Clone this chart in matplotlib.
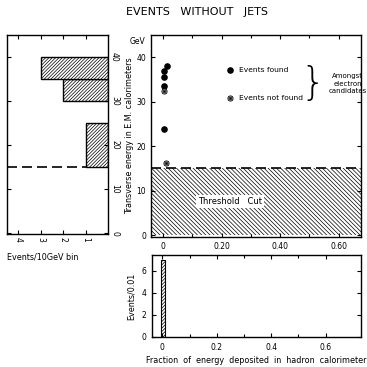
import matplotlib
matplotlib.use("Agg")
import matplotlib.pyplot as plt
import numpy as np

# ---- data ----
found_x = [0.013, 0.004, 0.004, 0.004, 0.004]
found_E = [38.0, 36.9, 35.6, 33.5, 23.8]
notfound_x = [0.004, 0.010]
notfound_E = [32.4, 16.3]
threshold = 15.0

hist_lo = [15, 30, 35]
hist_hi = [25, 35, 40]
hist_cnt = [1, 2, 3]

frac_left = [-0.004]
frac_width = [0.015]
frac_cnt = [7]

main_xticks = [0, 0.2, 0.4, 0.6]
main_xlabels = ["0", "0.20", "0.40", "0.60"]
e_ticks = [0, 10, 20, 30, 40]
left_xticks = [4, 3, 2, 1]
bot_xticks = [0, 0.2, 0.4, 0.6]
bot_xlabels = ["0", "0.2", "0.4", "0.6"]
bot_yticks = [0, 2, 4, 6]

plt.rcParams['font.family'] = ['DejaVu Sans']
plt.rcParams['hatch.linewidth'] = 0.5
W = H = 367.0
fig = plt.figure(figsize=(3.67, 3.67), dpi=100)

def ax_px(l, r, t, b):
    return fig.add_axes([l / W, (H - b) / H, (r - l) / W, (b - t) / H])

fs = 5.5
tick_kw = dict(direction='in', top=True, right=True, labelsize=fs, length=3, width=0.8)

# ---- main panel ----
ax = ax_px(151, 361, 35, 236.5)
ax.set_xlim(-0.041, 0.676)
ax.set_ylim(-0.3, 45)
ax.fill_between([-0.041, 0.676], 0, threshold, facecolor='white', edgecolor='black',
                hatch='\\' * 8, linewidth=0)
ax.axhline(threshold, color='black', lw=1.2, dashes=(6, 3))
ax.text(0.23, 7.5, "Threshold   Cut", fontsize=6, ha='center', va='center',
        bbox=dict(facecolor='white', edgecolor='none', pad=1.5))
ax.scatter(found_x, found_E, s=14, color='black', zorder=5)
ax.scatter(notfound_x, notfound_E, s=14, facecolor='white', edgecolor='black', lw=0.6, zorder=5)
ax.scatter(notfound_x, notfound_E, s=8, marker='x', color='black', lw=0.5, zorder=6)
ax.scatter(notfound_x, notfound_E, s=8, marker='+', color='black', lw=0.5, zorder=6)
# legend
ax.scatter([0.23], [37.1], s=14, color='black')
ax.scatter([0.23], [30.8], s=14, facecolor='white', edgecolor='black', lw=0.6)
ax.scatter([0.23], [30.8], s=8, marker='x', color='black', lw=0.5)
ax.scatter([0.23], [30.8], s=8, marker='+', color='black', lw=0.5)
ax.text(0.258, 37.1, "Events found", fontsize=5.4, va='center')
ax.text(0.258, 30.8, "Events not found", fontsize=5.4, va='center')
ax.text(0.512, 33.9, "}", fontsize=28, va='center', ha='center', fontweight='light')
ax.text(0.630, 34.0, "Amongst\nelectron\ncandidates", fontsize=5.0, va='center', ha='center',
        linespacing=1.3)
ax.set_xticks(main_xticks)
ax.set_xticklabels(main_xlabels)
ax.set_xticks(np.arange(0.1, 0.7, 0.2), minor=True)
ax.set_yticks(e_ticks)
ax.tick_params(which='both', **tick_kw)
ax.tick_params(which='minor', length=2)
ax.tick_params(axis='x', pad=4)
ax.set_ylabel("Transverse energy in E.M. calorimeters", fontsize=5.8, labelpad=2)
ax.text(-0.06, 43.5, "GeV", fontsize=5.5, ha='right', va='center')
for s in ax.spines.values():
    s.set_linewidth(1.0)

# ---- left panel ----
axl = ax_px(7, 108, 35, 234)
axl.set_xlim(4.49, 0)
axl.set_ylim(-0.2, 45)
axl.barh([(lo + hi) / 2 for lo, hi in zip(hist_lo, hist_hi)], hist_cnt,
         height=[hi - lo for lo, hi in zip(hist_lo, hist_hi)], left=0,
         facecolor='white', edgecolor='black', hatch='/' * 10, linewidth=1.0)
axl.plot([4.49, 1], [threshold, threshold], color='black', lw=1.2, dashes=(6, 3))
axl.set_xticks(left_xticks)
axl.set_xticklabels([str(v) for v in left_xticks], rotation=-90)
axl.set_yticks(e_ticks)
axl.yaxis.tick_right()
axl.set_yticklabels([str(v) for v in e_ticks], rotation=-90, va='center')
axl.tick_params(which='both', direction='in', top=True, left=True, right=True,
                labelleft=False, labelright=True, labelsize=fs, length=3, width=0.8)
axl.tick_params(axis='y', pad=1.5)
axl.tick_params(axis='x', pad=2)
axl.set_xlabel("Events/10GeV bin", fontsize=5.8, labelpad=8, x=0.35)
for s in axl.spines.values():
    s.set_linewidth(1.0)

# ---- bottom panel ----
axb = ax_px(151.5, 361, 255, 337)
axb.set_xlim(-0.04, 0.73)
axb.set_ylim(0, 7.45)
axb.bar(frac_left, frac_cnt, width=frac_width, align='edge', facecolor='white',
        edgecolor='black', hatch='/' * 10, linewidth=0.8)
axb.set_xticks(bot_xticks)
axb.set_xticklabels(bot_xlabels)
axb.set_xticks([0.1, 0.3, 0.5], minor=True)
axb.set_yticks(bot_yticks)
axb.tick_params(which='both', **tick_kw)
axb.tick_params(which='minor', length=2)
axb.tick_params(axis='x', pad=4)
axb.set_ylabel("Events/0.01", fontsize=5.8, labelpad=4)
axb.set_xlabel("Fraction  of  energy  deposited  in  hadron  calorimeter", fontsize=5.8, labelpad=3)
for s in axb.spines.values():
    s.set_linewidth(1.0)

fig.text(197 / W, 1 - 12 / H, "EVENTS   WITHOUT   JETS", fontsize=8, ha='center', va='center')

fig.savefig("out.png", dpi=100)
